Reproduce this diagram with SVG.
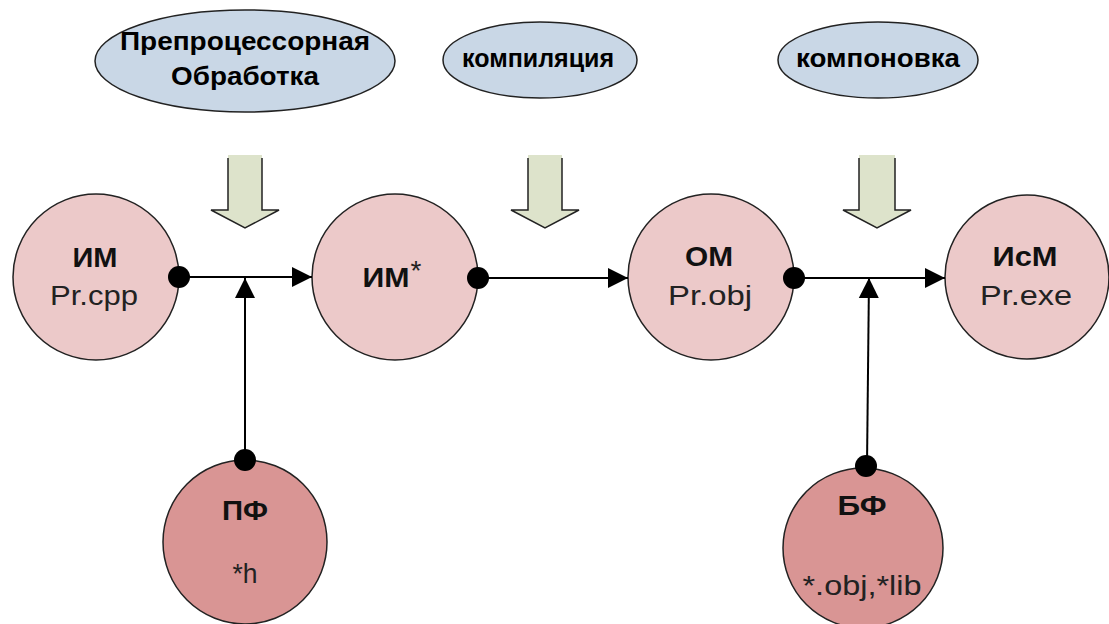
<svg xmlns="http://www.w3.org/2000/svg" width="1109" height="624" viewBox="0 0 1109 624">
  <style>
    .stage { fill: #c9d7e6; stroke: #222; stroke-width: 1.5; }
    .stage-text { font-family: "Liberation Sans", Arial, sans-serif; font-weight: bold; font-size: 25px; fill: #000; text-anchor: middle; }
    .file { fill: #ecc9c9; stroke: #222; stroke-width: 1.5; }
    .lib { fill: #d99594; stroke: #222; stroke-width: 1.5; }
    .name { font-family: "Liberation Sans", Arial, sans-serif; font-weight: bold; font-size: 28px; fill: #111; text-anchor: middle; }
    .ext { font-family: "Liberation Sans", Arial, sans-serif; font-size: 28px; fill: #222; text-anchor: middle; }
    .flow { stroke: #000; stroke-width: 2; fill: none; }
    .dot { fill: #000; }
    .block-fill { fill: #dde3cb; stroke: none; }
    .block-edge { fill: none; stroke: #222; stroke-width: 1.5; stroke-linejoin: miter; }
  </style>
  <defs>
    <marker id="tip" markerUnits="userSpaceOnUse" markerWidth="22" markerHeight="22" viewBox="0 0 22 22" refX="21" refY="11" orient="auto">
      <path d="M1,1 L21,11 L1,21 Z" fill="#000"/>
    </marker>
  </defs>

  <rect width="1109" height="624" fill="#fff"/>

  <!-- process stages -->
  <g id="stage-preprocess">
    <ellipse class="stage" cx="245" cy="61" rx="150" ry="51"/>
    <text class="stage-text" x="245" y="50" textLength="250" lengthAdjust="spacingAndGlyphs">Препроцессорная</text>
    <text class="stage-text" x="245" y="85" textLength="148" lengthAdjust="spacingAndGlyphs">Обработка</text>
  </g>
  <g id="stage-compile">
    <ellipse class="stage" cx="540" cy="60" rx="97" ry="38"/>
    <text class="stage-text" x="538" y="67" textLength="152" lengthAdjust="spacingAndGlyphs">компиляция</text>
  </g>
  <g id="stage-link">
    <ellipse class="stage" cx="878" cy="60" rx="100" ry="38"/>
    <text class="stage-text" x="878" y="67" textLength="164" lengthAdjust="spacingAndGlyphs">компоновка</text>
  </g>

  <!-- block arrows from stages down to the flow -->
  <g id="block-arrows">
    <polygon class="block-fill" points="228,155 262,155 262,210 279,210 245,228 211,210 228,210"/>
    <polyline class="block-edge" points="228,158 228,210 211,210 245,228 279,210 262,210 262,158"/>
    <polygon class="block-fill" points="528,155 562,155 562,210 579,210 545,228 511,210 528,210"/>
    <polyline class="block-edge" points="528,158 528,210 511,210 545,228 579,210 562,210 562,158"/>
    <polygon class="block-fill" points="859,155 895,155 895,210 911,210 877,228 843,210 859,210"/>
    <polyline class="block-edge" points="859,158 859,210 843,210 877,228 911,210 895,210 895,158"/>
  </g>

  <!-- modules -->
  <g id="node-im">
    <circle class="file" cx="96" cy="277" r="83"/>
    <text class="name" x="95" y="267" textLength="45" lengthAdjust="spacingAndGlyphs">ИМ</text>
    <text class="ext" x="94" y="305" textLength="88" lengthAdjust="spacingAndGlyphs">Pr.cpp</text>
  </g>
  <g id="node-im-star">
    <circle class="file" cx="395" cy="277" r="83"/>
    <text class="name" x="386" y="287" textLength="47" lengthAdjust="spacingAndGlyphs">ИМ</text>
    <text class="ext" x="416" y="280" font-size="18">*</text>
  </g>
  <g id="node-om">
    <circle class="file" cx="711" cy="277" r="83"/>
    <text class="name" x="709" y="266" textLength="48" lengthAdjust="spacingAndGlyphs">ОМ</text>
    <text class="ext" x="710" y="305" textLength="84" lengthAdjust="spacingAndGlyphs">Pr.obj</text>
  </g>
  <g id="node-ism">
    <circle class="file" cx="1027" cy="277" r="82"/>
    <text class="name" x="1025" y="266" textLength="65" lengthAdjust="spacingAndGlyphs">ИсМ</text>
    <text class="ext" x="1026" y="305" textLength="92" lengthAdjust="spacingAndGlyphs">Pr.exe</text>
  </g>
  <g id="node-pf">
    <circle class="lib" cx="245" cy="542" r="82"/>
    <text class="name" x="245" y="520" textLength="46" lengthAdjust="spacingAndGlyphs">ПФ</text>
    <text class="ext" x="245" y="583" textLength="25" lengthAdjust="spacingAndGlyphs">*h</text>
  </g>
  <g id="node-bf">
    <circle class="lib" cx="863" cy="548" r="80"/>
    <text class="name" x="862" y="515" textLength="49" lengthAdjust="spacingAndGlyphs">БФ</text>
    <text class="ext" x="862" y="595" textLength="119" lengthAdjust="spacingAndGlyphs">*.obj,*lib</text>
  </g>

  <!-- connectors, drawn over the module outlines -->
  <g id="connectors">
    <line class="flow" x1="179" y1="277" x2="312" y2="277" marker-end="url(#tip)"/>
    <line class="flow" x1="478" y1="278" x2="628" y2="278" marker-end="url(#tip)"/>
    <line class="flow" x1="794" y1="278" x2="945" y2="278" marker-end="url(#tip)"/>
    <line class="flow" x1="245" y1="460" x2="245" y2="278" marker-end="url(#tip)"/>
    <line class="flow" x1="867" y1="465" x2="869" y2="278" marker-end="url(#tip)"/>
    <circle class="dot" cx="179" cy="277" r="11"/>
    <circle class="dot" cx="478" cy="278" r="11"/>
    <circle class="dot" cx="794" cy="278" r="11"/>
    <circle class="dot" cx="245" cy="460" r="11"/>
    <circle class="dot" cx="866" cy="466" r="11"/>
  </g>
</svg>
